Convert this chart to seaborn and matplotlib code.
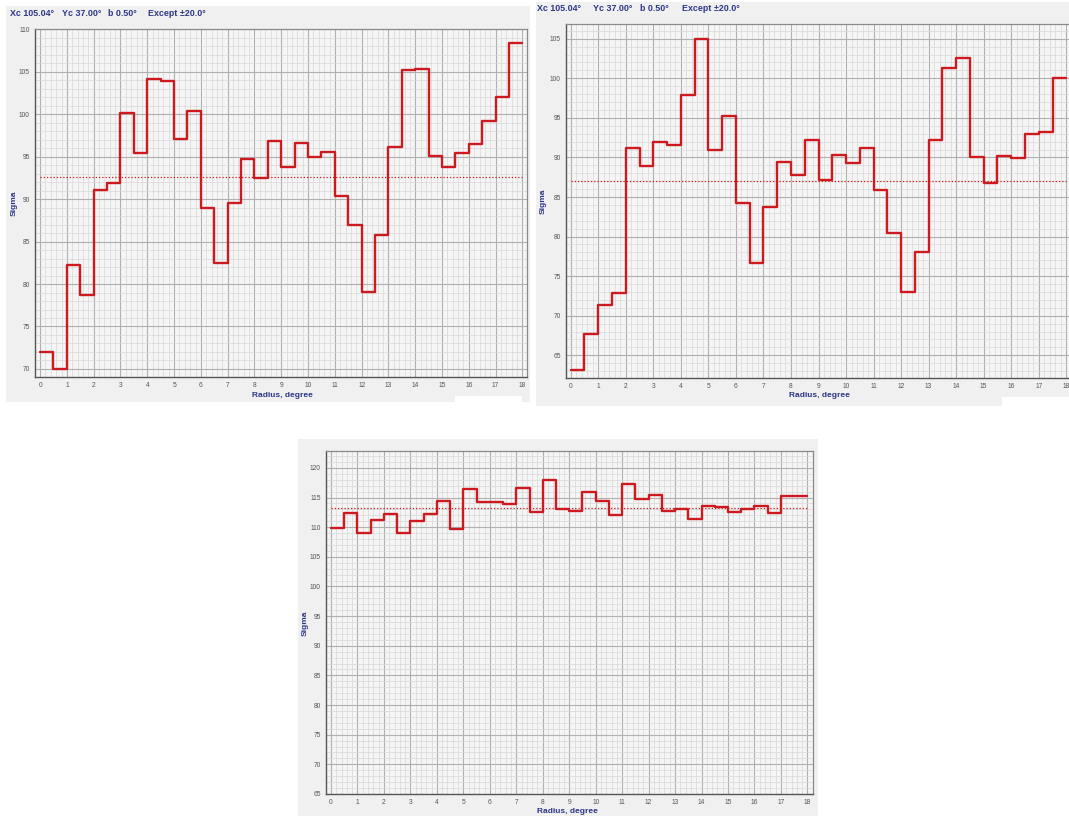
import numpy as np
import pandas as pd
import matplotlib
matplotlib.use("Agg")
import matplotlib.pyplot as plt
from matplotlib.patches import Rectangle
from matplotlib.ticker import MultipleLocator
import seaborn as sns

# ---------------- data ----------------
radius_edges = [i * 0.5 for i in range(37)]  # 0 .. 18 step 0.5
xtick_labels = [str(i) for i in range(19)]

sigma_a = [72.0, 70.0, 82.3, 78.7, 91.1, 91.9, 100.1, 95.4, 104.1, 103.9,
           97.1, 100.4, 89.0, 82.5, 89.6, 94.7, 92.5, 96.8, 93.8, 96.6,
           95.0, 95.5, 90.4, 86.9, 79.1, 85.8, 96.1, 105.2, 105.3, 95.1,
           93.8, 95.4, 96.5, 99.2, 102.0, 108.4]
mean_a = 92.6

sigma_b = [63.1, 67.7, 71.4, 72.9, 91.2, 88.9, 92.0, 91.6, 97.85, 105.0,
           91.0, 95.2, 84.3, 76.6, 83.8, 89.4, 87.75, 92.2, 87.2, 90.3,
           89.25, 91.2, 85.9, 80.4, 73.0, 78.0, 92.2, 101.25, 102.6, 90.0,
           86.8, 90.2, 89.9, 92.9, 93.2, 100.1]
mean_b = 87.0

sigma_c = [109.9, 112.35, 109.1, 111.2, 112.2, 109.1, 111.05, 112.3, 114.4, 109.7,
           116.5, 114.2, 114.2, 113.9, 116.6, 112.6, 118.0, 113.1, 112.75, 116.0,
           114.4, 112.0, 117.3, 114.8, 115.4, 112.75, 113.1, 111.35, 113.6, 113.4,
           112.6, 113.1, 113.5, 112.4, 115.2, 115.2]
mean_c = 113.25

title_parts = ["Xc 105.04°", "Yc 37.00°", "b 0.50°", "Except ±20.0°"]
xlabel = "Radius, degree"
ylabel = "Sigma"

# ---------------- style ----------------
sns.set_style("white")
plt.rcParams["font.family"] = ["Liberation Sans", "DejaVu Sans"]

W, H = 1069, 816
fig = plt.figure(figsize=(W / 100, H / 100), dpi=100)
fig.patch.set_facecolor("white")

NAVY = "#2c3687"
RED = "#cc1a1f"
BG = "#f0f0f0"


def fx(px):
    return px / W


def fy(py):
    return 1 - py / H


def panel_bg(x0, y0, x1, y1):
    fig.patches.append(Rectangle((fx(x0), fy(y1)), fx(x1) - fx(x0), fy(y0) - fy(y1),
                                 transform=fig.transFigure, facecolor=BG,
                                 edgecolor="none", zorder=-2))


def white_box(x0, y0, x1, y1):
    fig.patches.append(Rectangle((fx(x0), fy(y1)), fx(x1) - fx(x0), fy(y0) - fy(y1),
                                 transform=fig.transFigure, facecolor="white",
                                 edgecolor="none", zorder=-1))


def make_axes(left, top, right, bottom, xlim, ylim, values, mean):
    ax = fig.add_axes([fx(left), fy(bottom), fx(right) - fx(left), fy(top) - fy(bottom)])
    ax.set_zorder(2)
    ax.set_facecolor("#f5f5f5")
    df = pd.DataFrame({"r": radius_edges, "s": list(values) + [values[-1]]})
    sns.lineplot(data=df, x="r", y="s", ax=ax, drawstyle="steps-post",
                 color=RED, linewidth=1.7, estimator=None, sort=False, zorder=4)
    ax.hlines(mean, radius_edges[0], radius_edges[-1], colors=RED,
              linestyles=(0, (1, 1.6)), linewidth=0.9, zorder=3)
    ax.set_xlim(*xlim)
    ax.set_ylim(*ylim)
    ax.xaxis.set_major_locator(MultipleLocator(1))
    ax.xaxis.set_minor_locator(MultipleLocator(0.2))
    ax.yaxis.set_major_locator(MultipleLocator(5))
    ax.yaxis.set_minor_locator(MultipleLocator(1))
    ax.set_xticks(range(19))
    ax.set_xticklabels(xtick_labels)
    ax.grid(which="major", color="#b0b0b0", linewidth=0.8, zorder=1)
    ax.grid(which="minor", color="#d8d8d8", linewidth=0.5, zorder=0)
    ax.set_axisbelow(True)
    ax.tick_params(which="major", direction="out", length=2.2, width=0.8,
                   color="#555555", labelsize=4.8, labelcolor="#555555", pad=1.5)
    ax.tick_params(which="minor", direction="out", length=1.4, width=0.6,
                   color="#555555")
    for s in ["left", "bottom"]:
        ax.spines[s].set_color("#555555")
        ax.spines[s].set_linewidth(1.0)
    for s in ["top", "right"]:
        ax.spines[s].set_color("#8a8a8a")
        ax.spines[s].set_linewidth(0.9)
    ax.set_xlabel("")
    ax.set_ylabel("")
    return ax


def label_text(x, y, s, rot=0, size=6.0):
    fig.text(fx(x), fy(y), s, color=NAVY, fontweight="bold", fontsize=size,
             rotation=rot, ha="center", va="center", zorder=3)


def title_row(xs, y):
    for x, s in zip(xs, title_parts):
        fig.text(fx(x), fy(y), s, color=NAVY, fontweight="bold", fontsize=6.4,
                 ha="left", va="center", zorder=3)


# panel backgrounds
panel_bg(6, 6, 530, 402)
panel_bg(536, 2, 1069, 406)
panel_bg(298, 439, 818, 816)

# panel 1
make_axes(35, 29, 527, 377, (-0.19, 18.17), (69.05, 110.04), sigma_a, mean_a)
title_row([10, 62, 108, 148], 14)
label_text(14, 203, ylabel, rot=90)
label_text(282, 395, xlabel)
white_box(455, 396, 522, 402)

# panel 2
make_axes(566, 24, 1071, 377.7, (-0.17, 18.17), (62.17, 106.86), sigma_b, mean_b)
title_row([537, 593, 640, 682], 8.5)
label_text(543, 201, ylabel, rot=90)
label_text(819, 395.5, xlabel)
white_box(1002, 397, 1069, 406)

# panel 3
make_axes(326, 450.7, 812.7, 794, (-0.19, 18.2), (65.0, 122.9), sigma_c, mean_c)
label_text(305, 623, ylabel, rot=90)
label_text(567, 811.5, xlabel)

fig.savefig("out.png", dpi=100, facecolor="white")
